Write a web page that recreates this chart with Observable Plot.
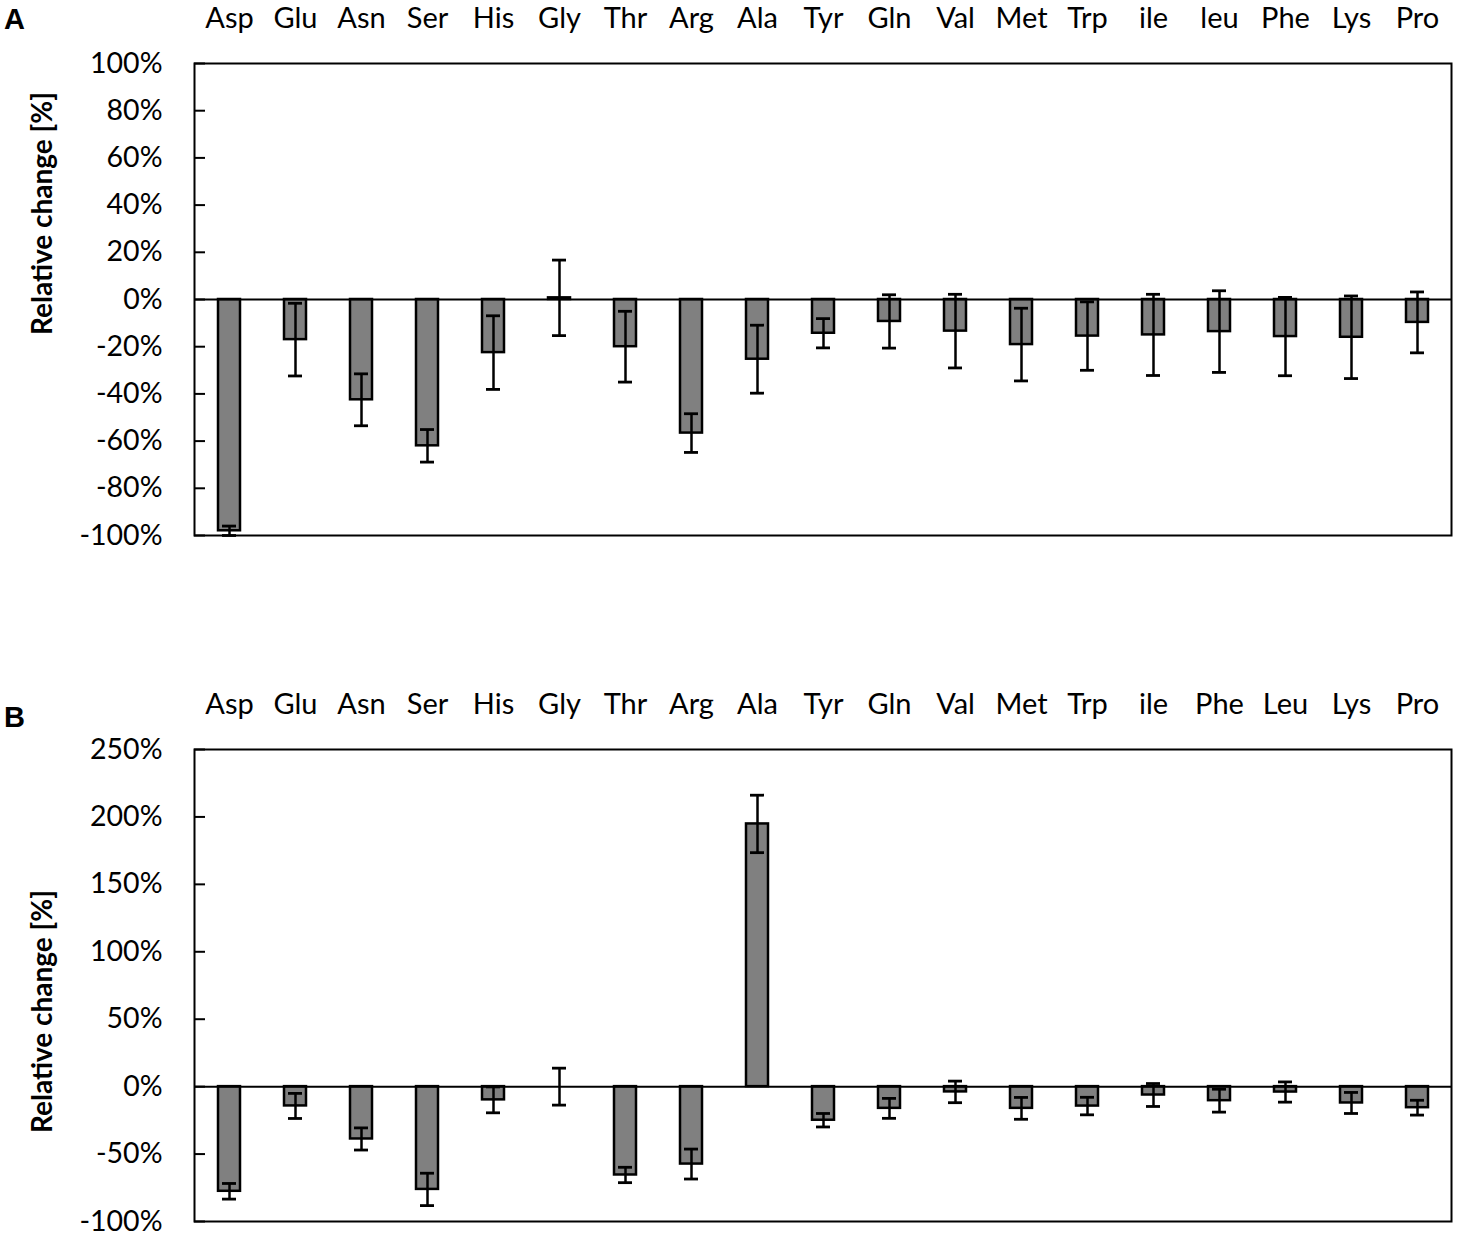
<!DOCTYPE html>
<html>
<head>
<meta charset="utf-8">
<script src="https://cdn.jsdelivr.net/npm/d3@7"></script>
<script src="https://cdn.jsdelivr.net/npm/@observablehq/plot@0.6"></script>
<style>
  html, body { margin: 0; padding: 0; background: white; }
  #page { position: relative; width: 1460px; height: 1239px; font-family: Lato, sans-serif; }
  .panel-letter { position: absolute; font-family: "Liberation Sans", Arial, sans-serif; font-weight: bold; font-size: 29px; line-height: 1; color: black; }
  #chartA { position: absolute; left: 0; top: 0; }
  #chartB { position: absolute; left: 0; top: 620px; }
</style>
</head>
<body>
<div id="page">
  <div id="chartA"></div>
  <div id="chartB"></div>
  <div class="panel-letter" style="left:4px; top:5px;">A</div>
  <div class="panel-letter" style="left:4px; top:703px;">B</div>
</div>
<script>
// Panel A data
const categoriesA = ["Asp","Glu","Asn","Ser","His","Gly","Thr","Arg","Ala","Tyr","Gln","Val","Met","Trp","ile","leu","Phe","Lys","Pro"];
const meanA = [-98, -17, -42.5, -62, -22.5, 0.7, -20, -56.6, -25.3, -14.3, -9.3, -13.4, -19.1, -15.5, -15, -13.6, -15.7, -16, -9.7];
const errA  = [2, 15.4, 11, 6.9, 15.6, 16, 15, 8.2, 14.4, 6.2, 11.3, 15.6, 15.4, 14.5, 17.2, 17.3, 16.6, 17.5, 12.9];
const ticksA = [-100, -80, -60, -40, -20, 0, 20, 40, 60, 80, 100];

// Panel B data
const categoriesB = ["Asp","Glu","Asn","Ser","His","Gly","Thr","Arg","Ala","Tyr","Gln","Val","Met","Trp","ile","Phe","Leu","Lys","Pro"];
const meanB = [-77.6, -14.3, -38.8, -76.2, -9.8, 0, -65.5, -57.4, 194.8, -24.9, -16.1, -3.9, -16.1, -14.4, -6.2, -10.4, -4, -12.1, -15.6];
const errB  = [5.8, 9.3, 8.2, 12, 9.6, 13.7, 5.7, 11.1, 21.3, 5, 7.4, 8, 8.1, 6.5, 8.5, 8.5, 7.5, 7.8, 5.5];
const ticksB = [-100, -50, 0, 50, 100, 150, 200, 250];

const yLabel = "Relative change [%]";

function makePanel(categories, means, errs, ticks, opts) {
  const data = categories.map((c, i) => ({name: c, value: means[i], err: errs[i]}));
  const W = 1460, mL = 194, mR = 9;
  const frameW = W - mL - mR;
  const frameMidY = opts.marginTop + (opts.height - opts.marginTop - opts.marginBottom) / 2;
  return Plot.plot({
    width: W,
    height: opts.height,
    marginLeft: mL,
    marginRight: mR,
    marginTop: opts.marginTop,
    marginBottom: opts.marginBottom,
    style: {fontFamily: "Lato, sans-serif", fontSize: "28px", color: "black", background: "white", overflow: "visible"},
    x: {domain: categories, paddingInner: 0.67, paddingOuter: 0.335, label: null},
    y: {domain: [ticks[0], ticks[ticks.length - 1]], label: null},
    marks: [
      Plot.barY(data, {x: "name", y1: 0, y2: "value", fill: "#808080", stroke: "black", strokeWidth: 2.5}),
      Plot.ruleY([0], {stroke: "black", strokeWidth: 2}),
      Plot.ruleX(data, {x: "name", y1: d => d.value - d.err, y2: d => d.value + d.err, stroke: "black", strokeWidth: 2.5}),
      Plot.tickY(data, {x: "name", y: d => d.value + d.err, stroke: "black", strokeWidth: 2.8, insetLeft: 4, insetRight: 4}),
      Plot.tickY(data, {x: "name", y: d => d.value - d.err, stroke: "black", strokeWidth: 2.8, insetLeft: 4, insetRight: 4}),
      Plot.tickY(ticks, {y: d => d, stroke: "black", strokeWidth: 2, insetRight: frameW - 11}),
      Plot.axisX({anchor: "top", tickSize: 0, tickPadding: 36, fontSize: 29}),
      Plot.axisY({anchor: "left", ticks: ticks, tickSize: 0, tickPadding: 32, tickFormat: d => d + "%", fontSize: 28.5, label: null}),
      Plot.text([yLabel], {text: d => d, frameAnchor: "left", dx: -151, dy: opts.labelCenterY - frameMidY, rotate: -90, fontWeight: "bold", fontSize: 28, textAnchor: "middle"}),
      Plot.frame({stroke: "black", strokeWidth: 2})
    ]
  });
}

document.getElementById("chartA").appendChild(
  makePanel(categoriesA, meanA, errA, ticksA, {height: 620, marginTop: 63, marginBottom: 85, labelCenterY: 213})
);
document.getElementById("chartB").appendChild(
  makePanel(categoriesB, meanB, errB, ticksB, {height: 619, marginTop: 129, marginBottom: 18, labelCenterY: 391})
);
</script>
</body>
</html>
